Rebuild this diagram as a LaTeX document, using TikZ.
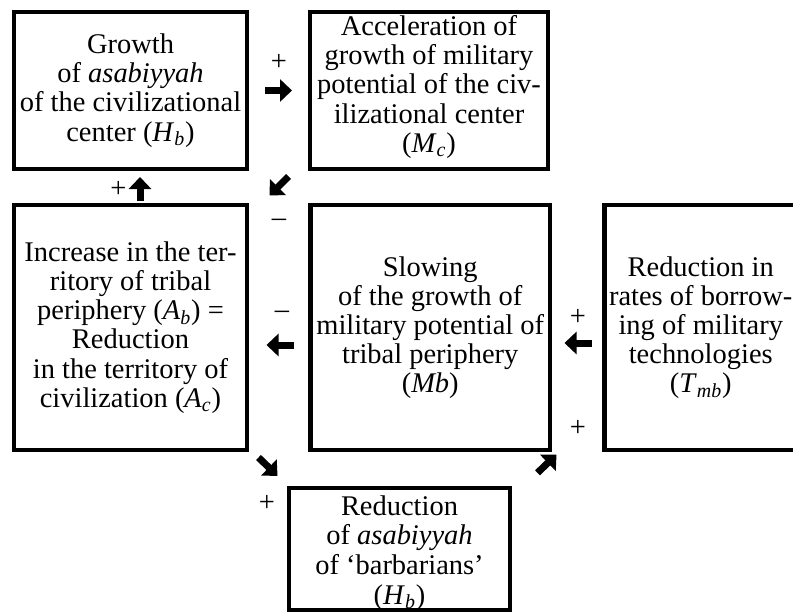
\documentclass[tikz,border=0pt]{standalone}
\usepackage{fontspec}
\setmainfont{Liberation Serif}
\usetikzlibrary{arrows.meta}
\newcommand{\varsub}[2]{\textit{#1}\textsubscript{\textit{#2}}}

\begin{document}
\begin{tikzpicture}[boxStyle/.style={draw, line width=0.09cm, outer sep=0pt, inner sep=0pt, align=center, font=\fontsize{16.2pt}{16.6pt}\selectfont},
                    signStyle/.style={inner sep=0pt, font=\fontsize{16.2pt}{16.6pt}\selectfont},
                    arrowStyle/.style={line width=0.14cm, -{Triangle[length=0.24cm, width=0.44cm]}}]
                    \useasboundingbox (0,0) rectangle (15.86,-12.24);

                    \node[boxStyle, minimum width=4.66cm, minimum height=3.14cm](11) at (2.61, -1.81) {Growth\\ of \textit{asabiyyah}\\ of the civilizational\\ center (\varsub{H}{b})};
                    \node[boxStyle, minimum width=4.76cm, minimum height=3.14cm](12) at (8.58, -1.81) {Acceleration of\\ growth of military\\ potential of the civ-\\ ilizational center\\ (\varsub{M}{c})\\[-0.32cm]\mbox{}};
                    \node[boxStyle, minimum width=4.66cm, minimum height=4.90cm](21) at (2.61, -6.55) {Increase in the ter-\\ ritory of tribal\\ periphery (\varsub{A}{b}) =\\ Reduction\\ in the territory of\\ civilization (\varsub{A}{c})};
                    \node[boxStyle, minimum width=4.79cm, minimum height=4.90cm](22) at (8.605, -6.55) {Slowing\\ of the growth of\\ military potential of\\ tribal periphery\\ (\textit{Mb})};
                    \node[boxStyle, minimum width=3.85cm, minimum height=4.90cm](23) at (14.015, -6.55) {Reduction in\\ rates of borrow-\\ ing of military\\ technologies\\ (\varsub{T}{mb})};
                    \node[boxStyle, minimum width=4.42cm, minimum height=2.42cm, font=\fontsize{16.2pt}{16.9pt}\selectfont](32) at (7.99, -10.98) {\mbox{}\\[-0.05cm] Reduction\\ of \textit{asabiyyah}\\ of ‘barbarians’\\ (\varsub{H}{b})};

                    \node[signStyle](s12) at (5.58, -1.24) {+};
                    \node[signStyle](s23) at (5.58, -4.46) {\textendash};
                    \node[signStyle](s31) at (2.37, -3.78) {+};
                    \node[signStyle](s43) at (5.64, -6.30) {\textendash};
                    \node[signStyle](s54) at (11.56, -6.34) {+};
                    \node[signStyle](s64) at (11.56, -8.56) {+};
                    \node[signStyle](s36) at (5.34, -10.06) {+};

                    \draw[arrowStyle, shorten <=0.36cm, shorten >=0.36cm] (11.east) -- (12.west);
                    \draw[arrowStyle] ([shift={(-0.43,-0.15)}]12.south west) -- ([shift={(0.45,0.19)}]21.north east);
                    \draw[arrowStyle, shorten <=0.08cm, shorten >=0.16cm] ([xshift=0.19cm]21.north) -- ([xshift=0.19cm]11.south);
                    \draw[arrowStyle, shorten <=0.34cm, shorten >=0.39cm] ([yshift=-0.35cm]22.west) -- ([yshift=-0.35cm]21.east);
                    \draw[arrowStyle, shorten <=0.26cm, shorten >=0.29cm] ([yshift=-0.31cm]23.west) -- ([yshift=-0.31cm]22.east);
                    \draw[arrowStyle] ([shift={(0.23,-0.15)}]21.south east) -- ([shift={(-0.23,0.24)}]32.north west);
                    \draw[arrowStyle] ([shift={(0.55,0.30)}]32.north east) -- ([shift={(0.13,-0.09)}]22.south east);
                \end{tikzpicture}
\end{document}
